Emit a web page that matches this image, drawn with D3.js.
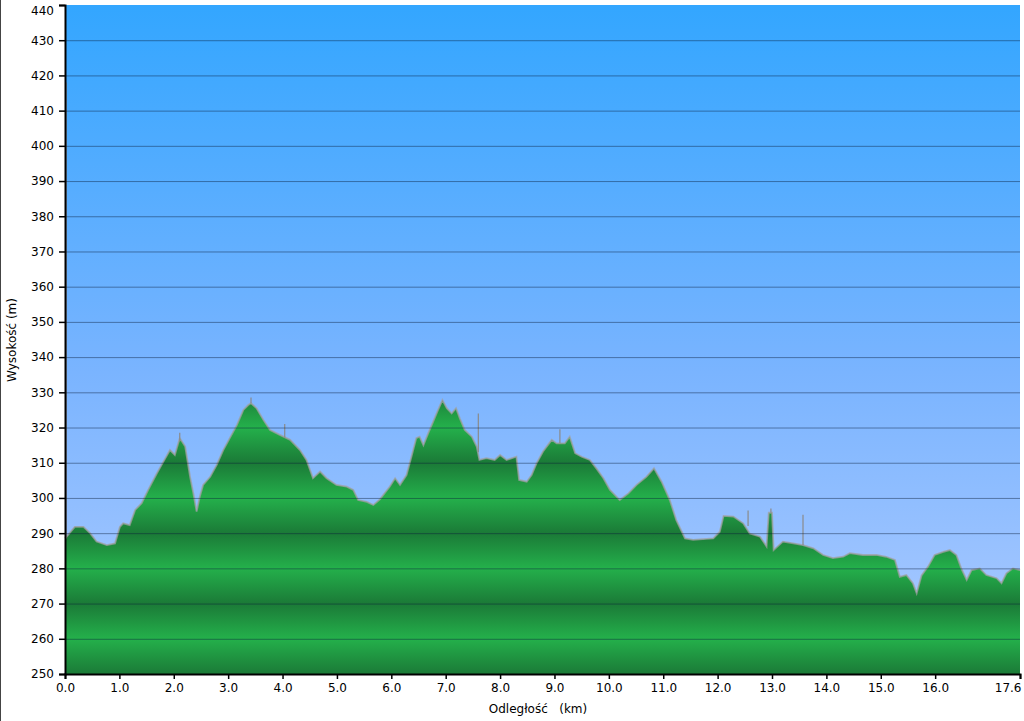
<!DOCTYPE html>
<html><head><meta charset="utf-8">
<script src="https://cdn.jsdelivr.net/npm/d3@7"></script>
<style>html,body{margin:0;padding:0;background:#fff;}svg{display:block;}text{font-family:"DejaVu Sans",Verdana,sans-serif;}</style>
</head><body>
<svg id="c" width="1024" height="721"></svg>
<script>
// ---- data ----
const distKm = [0.00,0.03,0.18,0.34,0.46,0.58,0.77,0.92,1.01,1.07,1.19,1.29,1.41,1.53,1.69,1.81,1.93,2.02,2.11,2.21,2.30,2.36,2.42,2.48,2.54,2.67,2.79,2.91,3.03,3.16,3.28,3.37,3.42,3.52,3.65,3.77,3.95,4.14,4.32,4.44,4.56,4.69,4.81,4.99,5.18,5.30,5.39,5.55,5.67,5.79,5.97,6.07,6.16,6.28,6.37,6.46,6.52,6.59,6.68,6.77,6.86,6.94,7.02,7.11,7.19,7.26,7.35,7.48,7.57,7.62,7.75,7.90,8.00,8.12,8.30,8.35,8.49,8.58,8.67,8.79,8.95,9.04,9.19,9.28,9.38,9.50,9.65,9.77,9.90,10.02,10.20,10.36,10.51,10.69,10.83,10.97,11.12,11.24,11.40,11.55,11.73,11.92,12.04,12.11,12.29,12.47,12.59,12.78,12.90,12.94,13.00,13.03,13.20,13.39,13.57,13.76,13.94,14.12,14.31,14.43,14.67,14.92,15.10,15.26,15.35,15.47,15.59,15.66,15.75,15.87,15.99,16.15,16.27,16.39,16.48,16.58,16.67,16.82,16.94,17.13,17.22,17.31,17.43,17.56];
const elevM = [288.5,289.0,291.8,291.8,290.0,287.6,286.6,287.1,291.8,292.8,292.3,296.6,298.5,302.3,307.0,310.3,313.6,312.2,317.0,314.6,306.0,301.3,296.1,300.4,303.7,306.0,309.4,313.6,317.0,320.7,325.0,326.4,326.9,325.5,322.1,319.3,317.9,316.5,313.6,310.8,305.6,307.5,305.6,303.7,303.2,302.3,299.4,298.9,298.0,299.6,303.2,305.6,303.7,306.5,311.7,317.0,317.4,315.0,318.4,321.7,325.0,327.8,325.5,324.0,325.5,322.6,319.3,317.4,314.6,310.8,311.3,310.8,312.2,310.8,311.7,305.1,304.6,306.5,309.8,313.2,316.5,315.5,315.5,317.4,312.7,311.7,310.8,308.4,305.6,302.3,299.4,301.3,303.7,306.0,308.4,304.6,299.4,293.7,288.5,288.1,288.3,288.5,290.4,294.9,294.7,292.8,289.9,289.0,286.2,295.8,295.8,285.2,287.6,287.1,286.6,285.7,283.8,282.9,283.3,284.3,283.8,283.8,283.3,282.4,277.6,278.1,275.8,272.9,278.0,280.5,283.8,284.7,285.2,283.8,280.0,276.7,279.5,280.0,278.1,277.2,275.8,278.6,280.0,279.5];
// narrow GPS spikes above the profile: [km, base elevation, top elevation]
const spikeKm   = [0.02, 2.11, 3.42, 4.04, 7.60, 9.10, 12.56, 12.98, 13.57];
const spikeBase = [288.5, 316.0, 326.9, 317.0, 313.0, 315.5, 292.0, 295.8, 286.6];
const spikeTop  = [418.0, 318.5, 328.5, 321.0, 324.0, 319.5, 296.4, 297.0, 295.2];
const yTicks = [250,260,270,280,290,300,310,320,330,340,350,360,370,380,390,400,410,420,430,440];
const xTicks = [0,1,2,3,4,5,6,7,8,9,10,11,12,13,14,15,16,17.56];
const xTitle = "Odległość   (km)";
const yTitle = "Wysokość (m)";

// ---- chart ----
const svg = d3.select("#c");
const L = 65, R = 1020, T = 5, B = 674;
const x = d3.scaleLinear().domain([0, 17.56]).range([L, R]);
const y = d3.scaleLinear().domain([250, 440]).range([B, T]);

const defs = svg.append("defs");
const sky = defs.append("linearGradient").attr("id","sky").attr("x1",0).attr("y1",0).attr("x2",0).attr("y2",1);
sky.append("stop").attr("offset","0%").attr("stop-color","#33a6ff");
sky.append("stop").attr("offset","55%").attr("stop-color","#7ab4ff");
sky.append("stop").attr("offset","100%").attr("stop-color","#aecbff");
const gr = defs.append("linearGradient").attr("id","grass").attr("gradientUnits","userSpaceOnUse")
  .attr("x1",0).attr("x2",0).attr("y1",y(290)).attr("y2",y(280)).attr("spreadMethod","reflect");
gr.append("stop").attr("offset","0%").attr("stop-color","#1b7a37");
gr.append("stop").attr("offset","100%").attr("stop-color","#24b04b");

svg.append("rect").attr("x",L).attr("y",T).attr("width",R-L).attr("height",B-T).attr("fill","url(#sky)");

const pts = distKm.map((d,i)=>[d, elevM[i]]);
const area = d3.area().x(d=>x(d[0])).y0(y(250)).y1(d=>y(d[1]));
const line = d3.line().x(d=>x(d[0])).y(d=>y(d[1]));
svg.append("path").datum(pts).attr("d",area).attr("fill","url(#grass)");
svg.append("path").datum(pts).attr("d",line).attr("fill","none").attr("stroke","#a0a0a0").attr("stroke-width",1.8).attr("stroke-opacity",0.75);
svg.append("g").selectAll("line").data(spikeKm).join("line")
  .attr("x1",d=>x(d)).attr("x2",d=>x(d))
  .attr("y1",(d,i)=>y(spikeBase[i])).attr("y2",(d,i)=>y(spikeTop[i]))
  .attr("stroke","#8a8a8a").attr("stroke-width",1.2);

// grid
svg.append("g").selectAll("line").data(yTicks.filter(v=>v>250&&v<440)).join("line")
  .attr("x1",L).attr("x2",R).attr("y1",d=>y(d)+0.5).attr("y2",d=>y(d)+0.5)
  .attr("stroke","#0a1e3c").attr("stroke-opacity",0.45).attr("stroke-width",1);

// axes
const fmt = d3.format(".1f");
const gy = svg.append("g").attr("transform",`translate(${L},0)`)
  .call(d3.axisLeft(y).tickValues(yTicks).tickSize(6).tickPadding(5).tickFormat(d3.format("d")));
const gx = svg.append("g").attr("transform",`translate(0,${B})`)
  .call(d3.axisBottom(x).tickValues(xTicks).tickSize(5).tickPadding(4).tickFormat(fmt));
[gy,gx].forEach(g=>{
  g.select(".domain").attr("stroke","#000").attr("stroke-width",2);
  g.selectAll(".tick line").attr("stroke","#000").attr("stroke-width",1.5);
  g.selectAll("text").attr("fill","#000").style("font-size","12px").style("font-family","'DejaVu Sans',Verdana,sans-serif");
});
gy.selectAll(".tick").filter(d=>d===440).select("text").attr("dy","0.75em");
gx.selectAll(".tick").filter(d=>d===17.56).select("text").attr("text-anchor","end").attr("dx","1");

svg.append("text").attr("x",538).attr("y",713).attr("text-anchor","middle")
  .style("font-size","12px").style("white-space","pre").attr("xml:space","preserve").text(xTitle);
svg.append("text").attr("transform","translate(16,340) rotate(-90)").attr("text-anchor","middle")
  .style("font-size","12px").text(yTitle);

svg.append("line").attr("x1",0.5).attr("x2",0.5).attr("y1",0).attr("y2",721).attr("stroke","#444").attr("stroke-width",1);
</script>
</body></html>
